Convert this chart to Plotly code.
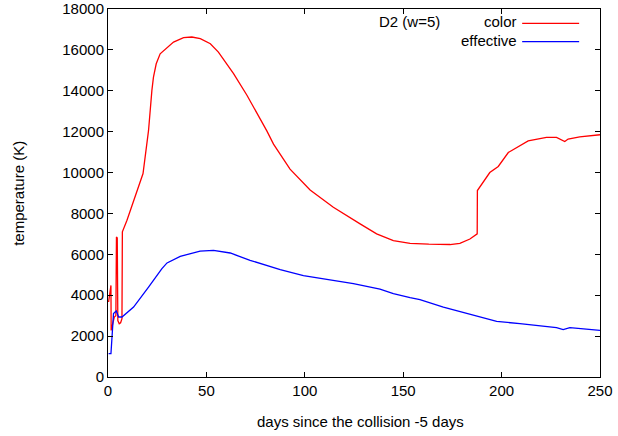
import plotly.graph_objects as go

# ---- data ----
days_color = [0.3, 1.5, 1.6, 3.2, 4.0, 4.3, 4.7, 5.0, 5.7, 6.4, 7.1, 7.3, 9.6, 13.5, 17.8,
              20.6, 21.5, 22.3, 23.1, 24.5, 26.5, 27.9, 33.3, 38.4, 42.6, 46.9, 52.0, 56.1,
              63.8, 70.6, 77.3, 79.6, 80.7, 84.1, 92.5, 102.7, 114.5, 128.1, 136.5, 145.0,
              153.5, 163.0, 173.8, 178.8, 183.9, 187.6, 187.7, 194.0, 198.3, 203.4, 213.5,
              222.8, 227.9, 232.1, 233.8, 239.7, 249.0, 250.0]
temp_color = [3670, 4480, 2280, 2930, 3000, 6850, 6800, 2760, 2600, 2650, 2850, 7100, 7660,
              8800, 9950, 12060, 13200, 14020, 14670, 15320, 15810, 15930, 16380, 16600,
              16630, 16550, 16300, 15890, 14840, 13780, 12640, 12280, 12040, 11390, 10170,
              9150, 8300, 7490, 7000, 6670, 6540, 6500, 6480, 6540, 6750, 7000, 9120, 10000,
              10300, 10980, 11550, 11720, 11720, 11520, 11640, 11750, 11830, 11850]

days_eff = [0.3, 1.5, 2.8, 3.6, 4.2, 5.4, 7.1, 13.0, 18.9, 20.6, 27.4, 30.0, 36.7, 46.8,
            53.6, 62.1, 72.2, 87.5, 99.3, 111.2, 124.7, 138.2, 145.0, 153.5, 158.5, 170.4,
            182.2, 194.1, 197.5, 209.3, 227.9, 231.3, 234.7, 250.0]
temp_eff = [1140, 1140, 3100, 3180, 3230, 2935, 2935, 3420, 4160, 4400, 5300, 5580, 5900,
            6160, 6195, 6065, 5710, 5250, 4960, 4760, 4570, 4300, 4080, 3880, 3785, 3420,
            3100, 2805, 2720, 2610, 2415, 2320, 2415, 2285]

series_names = ["color", "effective"]
key_title = "D2 (w=5)"
x_title = "days since the collision -5 days"
y_title = "temperature (K)"
x_ticks = [0, 50, 100, 150, 200, 250]
y_ticks = list(range(0, 18001, 2000))

FONT = "Liberation Sans, Arial, Helvetica, sans-serif"
RED = "#ff0000"
BLUE = "#0000ff"

fig = go.Figure()
fig.add_trace(go.Scatter(x=days_color, y=temp_color, mode="lines", name=series_names[0],
                         line=dict(color=RED, width=1.3), showlegend=False))
fig.add_trace(go.Scatter(x=days_eff, y=temp_eff, mode="lines", name=series_names[1],
                         line=dict(color=BLUE, width=1.3), showlegend=False))

axis_common = dict(showgrid=False, zeroline=False, showline=True, linecolor="black",
                   linewidth=1, mirror="ticks", ticks="inside", ticklen=5,
                   tickcolor="black", tickwidth=1, automargin=False,
                   tickfont=dict(family=FONT, size=15, color="black"))

fig.update_layout(
    width=618, height=436,
    margin=dict(l=108, r=18, t=9, b=59, autoexpand=False),
    paper_bgcolor="white", plot_bgcolor="white",
    font=dict(family=FONT, size=15, color="black"),
    xaxis=dict(range=[0, 250], tickvals=x_ticks, ticktext=[str(v) for v in x_ticks],
               **axis_common),
    yaxis=dict(range=[0, 18000], tickvals=y_ticks, ticktext=[str(v) for v in y_ticks],
               **axis_common),
)

txt = dict(family=FONT, size=15, color="black")
# axis titles
fig.add_annotation(text=x_title, xref="paper", yref="paper", x=0.513, y=-0.120,
                   xanchor="center", yanchor="middle", showarrow=False, font=txt)
fig.add_annotation(text=y_title, xref="paper", yref="paper", x=-0.182, y=0.499,
                   xanchor="center", yanchor="middle", showarrow=False, font=txt,
                   textangle=-90)

# key (gnuplot-style, text right-aligned left of the line sample)
fig.add_annotation(text=key_title, xref="paper", yref="paper", x=0.678, y=0.9666,
                   xanchor="right", yanchor="middle", showarrow=False, font=txt)
fig.add_annotation(text=series_names[0], xref="paper", yref="paper", x=0.8357, y=0.9666,
                   xanchor="right", yanchor="middle", showarrow=False, font=txt)
fig.add_annotation(text=series_names[1], xref="paper", yref="paper", x=0.8357, y=0.915,
                   xanchor="right", yanchor="middle", showarrow=False, font=txt)
fig.add_shape(type="line", xref="paper", yref="paper", x0=0.8418, x1=0.9576,
              y0=0.9611, y1=0.9611, line=dict(color=RED, width=1.3))
fig.add_shape(type="line", xref="paper", yref="paper", x0=0.8418, x1=0.9576,
              y0=0.9114, y1=0.9114, line=dict(color=BLUE, width=1.3))

fig.write_html("out.html",
               config={"displayModeBar": False, "staticPlot": True},
               post_script="document.body.style.margin='0px';"
                           "document.body.style.overflow='hidden';")
